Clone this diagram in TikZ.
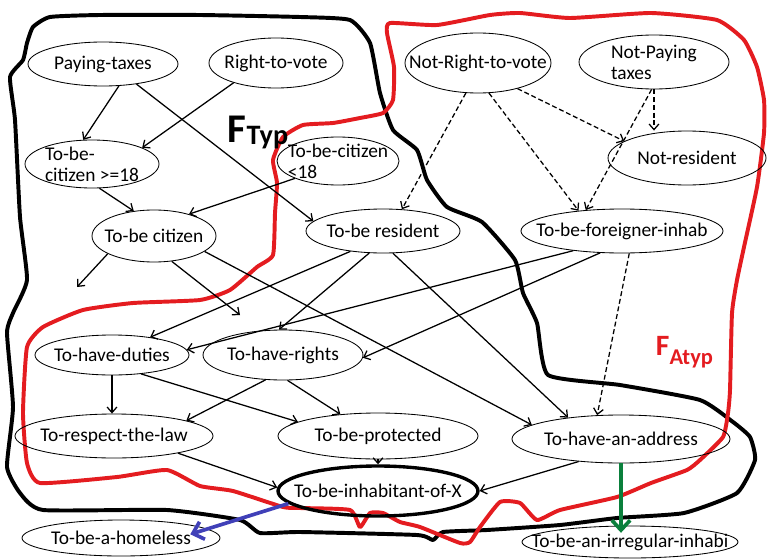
\documentclass[tikz,border=0pt]{standalone}
\usepackage{fontspec}
\setmainfont{Carlito}
\usepackage{xcolor}
\usetikzlibrary{arrows.meta, shapes.geometric}

\definecolor{atypred}{RGB}{228,28,32}
\definecolor{homeblue}{RGB}{64,64,184}
\definecolor{irregreen}{RGB}{10,128,60}

\begin{document}
\begin{tikzpicture}[x=0.025cm, y=-0.025cm,
  bubble/.style 2 args={draw, ellipse, line width=0.6pt, inner xsep=-1cm, inner ysep=-0.5cm,
    minimum width=#1*0.025cm, minimum height=#2*0.025cm, font=\fontsize{13.8}{15}\selectfont},
  link/.style={line width=0.9pt, -{Straight Barb[length=4pt,width=7pt]}},
  nolink/.style={link, dash pattern=on 3.5pt off 2pt},
  fat/.style={line width=2.6pt, -{Straight Barb[length=7pt,width=13pt,line width=2.6pt]}},
  border/.style={line width=2.8pt, line join=round}]
  \useasboundingbox (0,0) rectangle (768,558);

  % the two families of situations
  \draw[border] plot[smooth cycle, tension=0.3] coordinates {
    (50,17) (100,15) (200,15) (300,17) (350,20) (370,43) (380,93) (393,130) (417,150)
    (427,180) (447,207) (482,222) (515,260) (523,293) (537,323) (548,375) (620,385)
    (700,400) (733,422) (750,437) (755,460) (737,493) (684,513) (617,518) (560,525)
    (487,530) (443,532) (433,540) (417,535) (300,532) (260,533) (240,520) (167,510)
    (43,510) (20,493) (7,467) (13,407) (7,333) (13,313) (27,280) (20,217) (15,120)
    (10,77) (23,60) (27,43) (33,27)};
  \draw[border, atypred] plot[smooth cycle, tension=0.3] coordinates {
    (390,23) (437,25) (490,15) (520,13) (570,18) (651,13) (717,20) (744,40) (757,67)
    (764,100) (764,133) (757,187) (744,247) (737,280) (732,313) (730,390) (728,413)
    (723,437) (700,460) (687,470) (651,483) (617,497) (560,510) (537,520) (520,503)
    (500,502) (480,527) (470,542) (460,543) (420,527) (400,522) (383,513) (370,513)
    (360,527) (350,510) (300,508) (283,507) (233,491) (200,486) (167,470) (117,477)
    (40,483) (27,463) (23,413) (27,347) (43,327) (83,310) (133,303) (200,300) (230,290)
    (257,267) (273,255) (275,213) (277,183) (273,160) (283,137) (303,125) (333,123)
    (360,118) (383,113) (393,100) (394,67) (387,33)};

  \node[anchor=base west, font=\bfseries\fontsize{29}{29}\selectfont] (ftyp) at (223,142)
    {F\raisebox{-2pt}{\fontsize{20}{20}\selectfont Typ}};
  \node[anchor=base west, text=atypred, font=\bfseries\fontsize{21}{21}\selectfont] (fatyp) at (651,355)
    {F\raisebox{-7pt}{\fontsize{16}{16}\selectfont Atyp}};

  \node[bubble={150}{44}] (pay) at (103,64) {Paying-taxes};
  \node[bubble={134}{50}] (vote) at (276,63) {Right-to-vote};
  \node[bubble={134}{48}, align=left] (cit18) at (92,164) {To-be-\\citizen >=18};
  \node[bubble={122}{48}, align=left] (citlt) at (338,161) {To-be-citizen\\<18};
  \node[bubble={124}{52}] (cit) at (154,236) {To-be citizen};
  \node[bubble={154}{44}] (res) at (383,231) {To-be resident};
  \node[bubble={146}{60}] (nvote) at (478,63) {Not-Right-to-vote};
  \node[bubble={150}{54}, align=left] (npay) at (654,62) {Not-Paying\\taxes};
  \node[bubble={158}{54}] (nres) at (687,158) {Not-resident};
  \node[bubble={202}{44}] (foreign) at (622,231) {To-be-foreigner-inhab};
  \node[bubble={154}{40}] (duties) at (112,355) {To-have-duties};
  \node[bubble={160}{50}] (rights) at (283,355) {To-have-rights};
  \node[bubble={198}{44}] (law) at (114,436) {To-respect-the-law};
  \node[bubble={200}{46}] (prot) at (378,436) {To-be-protected};
  \node[bubble={218}{48}] (addr) at (621,439) {To-have-an-address};
  \node[bubble={200}{50}, line width=2.4pt] (inhab) at (378,491) {To-be-inhabitant-of-X};
  \node[bubble={198}{36}] (homeless) at (121,538) {To-be-a-homeless};
  \node[bubble={216}{32}] (irreg) at (630,542) {To-be-an-irregular-inhabi};

  \coordinate (loose1) at (77,287);
  \coordinate (loose2) at (240,315);

  \draw[link] (pay.-54) -- (cit18.110);
  \draw[link] (vote.205) -- (cit18.18);
  \draw[link] (pay.-31) -- (res.172);
  \draw[link] (cit18.-73) -- (cit.129);
  \draw[link] (citlt.202) -- (cit.32);
  \draw[link] (cit.201) -- (loose1);
  \draw[link] (cit.-55) -- (loose2);
  \draw[link] (cit.-17) -- (addr.171);
  \draw[link] (res.-66) -- (addr.158);
  \draw[link] (res.212) -- (duties.25);
  \draw[link] (res.238) -- (rights.99);
  \draw[link] (foreign.202) -- (duties.4);
  \draw[link] (foreign.225) -- (rights.-2);
  \draw[link] (duties.south) -- (duties.south |- law.north);
  \draw[link] (duties.-33) -- (prot.170);
  \draw[link] (rights.235) -- (law.12);
  \draw[link] (rights.-80) -- (prot.150);
  \draw[link] (law.-15) -- (inhab.178);
  \draw[link] (prot.south) -- (inhab.north);
  \draw[link] (addr.208) -- (inhab.east);

  \draw[nolink] (nvote.248) -- (res.49);
  \draw[nolink] (nvote.-70) -- (foreign.155);
  \draw[nolink] (nvote.-33) -- (nres.165);
  \draw[nolink] (npay.south) -- (npay.south |- nres.north);
  \draw[nolink] (npay.265) -- (foreign.150);
  \draw[nolink] (foreign.-72) -- (addr.135);

  \draw[fat, homeblue, shorten >=-0.45cm] (inhab.188) -- (homeless.6);
  \draw[fat, irregreen, shorten >=-0.18cm] (addr.south) -- (addr.south |- irreg.north);
\end{tikzpicture}
\end{document}
